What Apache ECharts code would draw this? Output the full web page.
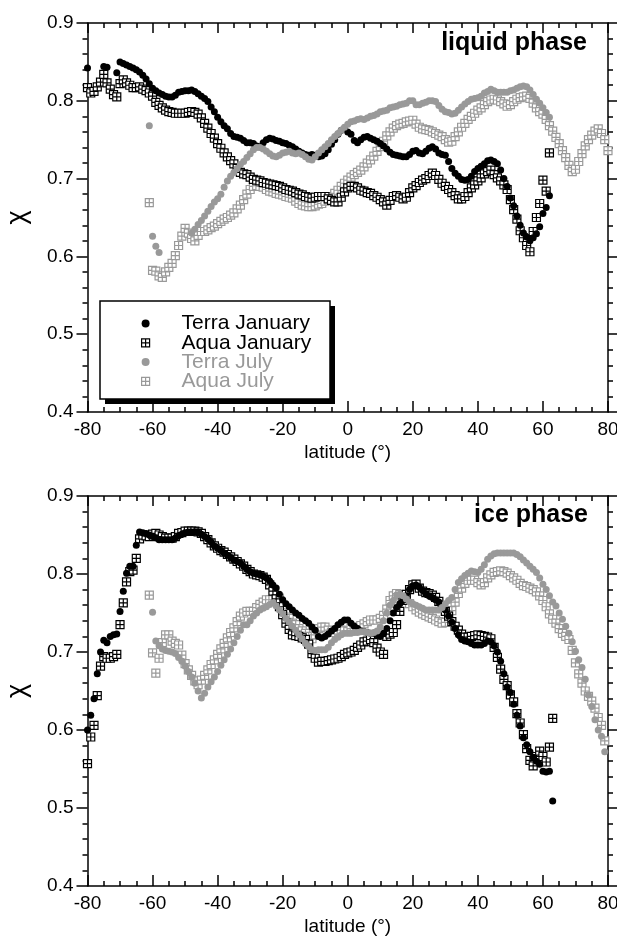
<!DOCTYPE html>
<html>
<head>
<meta charset="utf-8">
<title>chi vs latitude</title>
<script src="https://cdn.jsdelivr.net/npm/echarts@6.0.0/dist/echarts.min.js"></script>
<style>
html, body { margin: 0; padding: 0; background: #fff; }
#chart { width: 617px; height: 945px; }
</style>
</head>
<body>
<div id="chart"></div>
<script>
// chi values in 1 degree latitude bins, first value at the given start latitude
// (null = no point in that bin)

// liquid phase
const terraJanLiqStart = -80;
const terraJanLiq = [
    0.842, null, null, null, null, 0.844, 0.843, null, null, 0.836,   // -80
    0.850, 0.848, 0.846, 0.844, 0.842, 0.840, 0.837, 0.833, 0.828, 0.822,   // -70
    0.816, 0.813, 0.810, 0.808, 0.806, 0.805, 0.805, 0.807, 0.811, 0.812,   // -60
    0.813, 0.813, 0.814, 0.812, 0.809, 0.806, 0.803, 0.799, 0.792, 0.786,   // -50
    0.779, 0.773, 0.768, 0.764, 0.758, 0.754, 0.753, 0.752, 0.749, 0.746,   // -40
    0.746, 0.745, 0.742, 0.741, 0.746, 0.750, 0.752, 0.751, 0.749, 0.748,   // -30
    0.746, 0.745, 0.743, 0.741, 0.738, 0.735, 0.733, 0.731, 0.730, 0.731,   // -20
    0.730, 0.728, 0.729, 0.732, 0.737, 0.744, 0.750, 0.757, 0.762, 0.764,   // -10
    0.760, 0.757, 0.749, 0.746, 0.750, 0.753, 0.754, 0.752, 0.750, 0.748,   // 0
    0.745, 0.742, 0.738, 0.734, 0.731, 0.730, 0.729, 0.728, 0.728, 0.731,   // 10
    0.735, 0.736, 0.733, 0.732, 0.735, 0.739, 0.741, 0.738, 0.733, 0.731,   // 20
    0.730, 0.722, 0.713, 0.707, 0.703, 0.699, 0.698, 0.699, 0.703, 0.709,   // 30
    0.713, 0.716, 0.719, 0.723, 0.724, 0.722, 0.719, 0.711, 0.700, 0.690,   // 40
    0.675, 0.665, 0.652, 0.640, 0.630, 0.625, 0.620, 0.624, 0.629, 0.638,   // 50
    0.655, 0.663, 0.678                                                     // 60
];

const aquaJanLiqStart = -80;
const aquaJanLiq = [
    0.817, 0.810, 0.812, 0.818, 0.824, 0.834, 0.823, 0.815, 0.808, 0.805,
    0.822, 0.827, 0.823, 0.820, 0.817, 0.817, 0.818, 0.815, 0.813, 0.810,
    0.806, 0.798, 0.794, 0.791, 0.788, 0.786, 0.785, 0.784, 0.784, 0.784,
    0.784, 0.785, 0.786, 0.785, 0.783, 0.778, 0.771, 0.765, 0.758, 0.752,
    0.745, 0.739, 0.733, 0.728, 0.723, 0.719, 0.713, 0.708, 0.706, 0.705,
    0.702, 0.699, 0.698, 0.697, 0.695, 0.694, 0.693, 0.692, 0.691, 0.690,
    0.688, 0.686, 0.685, 0.684, 0.682, 0.680, 0.679, 0.677, 0.676, 0.675,
    0.676, 0.677, 0.677, 0.677, 0.674, 0.672, 0.670, 0.670, 0.676, 0.683,
    0.688, 0.690, 0.690, 0.688, 0.685, 0.684, 0.682, 0.681, 0.678, 0.676,
    0.673, 0.670, 0.666, 0.672, 0.677, 0.678, 0.676, 0.674, 0.676, 0.682,
    0.688, 0.691, 0.695, 0.698, 0.700, 0.704, 0.707, 0.704, 0.699, 0.694,
    0.690, 0.686, 0.682, 0.678, 0.674, 0.674, 0.677, 0.682, 0.688, 0.692,
    0.697, 0.701, 0.706, 0.709, 0.711, 0.705, 0.701, 0.697, 0.692, 0.686,
    0.673, 0.660, 0.648, 0.633, 0.624, 0.614, 0.606, 0.632, 0.650, 0.668,
    0.698, 0.684, 0.733
];

const terraJulLiqStart = -61;
const terraJulLiq = [
    0.768, 0.626, 0.613, 0.605, null, null, null, null, null, null,   // -61
    null, null, null, 0.630, 0.635, 0.641, 0.646, 0.652, 0.658, 0.664,   // -51
    0.670, 0.674, 0.680, 0.689, 0.697, 0.703, 0.708, 0.713, 0.718, 0.722,   // -41
    0.727, 0.732, 0.737, 0.740, 0.740, 0.738, 0.735, 0.732, 0.729, 0.728,   // -31
    0.730, 0.733, 0.734, 0.735, 0.733, 0.732, 0.733, 0.731, 0.728, 0.725,   // -21
    0.724, 0.728, 0.733, 0.737, 0.741, 0.745, 0.750, 0.754, 0.758, 0.762,   // -11
    0.766, 0.770, 0.773, 0.774, 0.776, 0.777, 0.776, 0.778, 0.780, 0.781,   // -1
    0.783, 0.786, 0.787, 0.788, 0.791, 0.792, 0.793, 0.795, 0.796, 0.797,   // 9
    0.800, 0.800, 0.795, 0.795, 0.797, 0.798, 0.800, 0.800, 0.799, 0.794,   // 19
    0.789, 0.786, 0.785, 0.783, 0.784, 0.788, 0.792, 0.796, 0.799, 0.802,   // 29
    0.803, 0.804, 0.806, 0.810, 0.812, 0.815, 0.813, 0.811, 0.811, 0.811,   // 39
    0.811, 0.813, 0.814, 0.816, 0.818, 0.819, 0.818, 0.814, 0.808, 0.802,   // 49
    0.797, 0.791, 0.785, 0.779                                              // 59
];

const aquaJulLiqStart = -61;
const aquaJulLiq = [
    0.669, 0.582, 0.581, 0.575, 0.573, 0.580, 0.586, 0.591, 0.601, 0.614,   // -61
    0.626, 0.636, 0.630, 0.623, 0.620, 0.627, 0.632, 0.632, 0.634, 0.637,   // -51
    0.639, 0.642, 0.645, 0.648, 0.650, 0.653, 0.656, 0.661, 0.666, 0.673,   // -41
    0.680, 0.686, 0.690, 0.691, 0.690, 0.689, 0.686, 0.684, 0.683, 0.681,   // -31
    0.680, 0.679, 0.677, 0.676, 0.675, 0.671, 0.668, 0.666, 0.665, 0.664,   // -21
    0.664, 0.665, 0.667, 0.668, 0.671, 0.674, 0.677, 0.681, 0.685, 0.690,   // -11
    0.694, 0.698, 0.702, 0.705, 0.708, 0.711, 0.715, 0.720, 0.724, 0.729,   // -1
    0.735, 0.741, 0.748, 0.755, 0.760, 0.765, 0.768, 0.770, 0.771, 0.773,   // 9
    0.774, 0.775, 0.770, 0.766, 0.764, 0.763, 0.762, 0.760, 0.758, 0.756,   // 19
    0.754, 0.750, 0.747, 0.748, 0.754, 0.760, 0.766, 0.771, 0.776, 0.780,   // 29
    0.784, 0.788, 0.791, 0.795, 0.799, 0.801, 0.802, 0.801, 0.799, 0.796,   // 39
    0.793, 0.795, 0.799, 0.802, 0.804, 0.805, 0.806, 0.803, 0.797, 0.791,   // 49
    0.786, 0.783, 0.776, 0.768, 0.761, 0.753, 0.745, 0.736, 0.727, 0.717,   // 59
    0.709, 0.712, 0.722, 0.732, 0.742, 0.750, 0.756, 0.761, 0.764, 0.758,   // 69
    0.750, 0.736                                                            // 79
];

// ice phase
const terraJanIceStart = -80;
const terraJanIce = [
    0.600, 0.619, 0.640, 0.672, 0.700, 0.715, 0.712, 0.720, 0.722, 0.723,
    0.752, 0.778, 0.801, 0.810, 0.810, 0.837, 0.854, 0.853, 0.852, 0.850,
    0.848, 0.846, 0.844, 0.844, 0.844, 0.844, 0.844, 0.846, 0.849, 0.851,
    0.853, 0.854, 0.854, 0.854, 0.853, 0.851, 0.848, 0.845, 0.841, 0.836,
    0.833, 0.830, 0.827, 0.824, 0.821, 0.818, 0.816, 0.814, 0.810, 0.806,
    0.803, 0.801, 0.800, 0.799, 0.797, 0.795, 0.791, 0.786, 0.782, 0.774,
    0.767, 0.762, 0.758, 0.754, 0.750, 0.747, 0.743, 0.740, 0.737, 0.732,
    0.728, 0.720, 0.718, 0.720, 0.723, 0.727, 0.730, 0.735, 0.738, 0.741,
    0.741, 0.737, 0.733, 0.730, 0.727, 0.726, 0.725, 0.724, 0.724, 0.722,
    0.720, 0.724, 0.730, 0.740, 0.750, 0.757, 0.762, 0.766, 0.772, 0.780,
    0.785, 0.786, 0.783, 0.779, 0.775, 0.772, 0.770, 0.767, 0.764, 0.760,
    0.754, 0.746, 0.738, 0.730, 0.722, 0.716, 0.714, 0.713, 0.711, 0.709,
    0.709, 0.709, 0.711, 0.714, 0.713, 0.708, 0.700, 0.688, 0.672, 0.655,
    0.648, 0.633, 0.619, 0.605, 0.590, 0.581, 0.572, 0.565, 0.560, 0.556,
    0.547, 0.546, 0.547, 0.509
];

const aquaJanIceStart = -80;
const aquaJanIce = [
    0.557, 0.591, 0.606, 0.644, 0.682, 0.694, 0.692, 0.692, 0.694, 0.697,
    0.735, 0.763, 0.790, 0.803, 0.805, 0.820, 0.845, 0.850, 0.849, 0.848,
    0.851, 0.852, 0.850, 0.848, 0.846, 0.846, 0.846, 0.848, 0.852, 0.853,
    0.855, 0.855, 0.855, 0.855, 0.854, 0.852, 0.848, 0.844, 0.840, 0.836,
    0.833, 0.830, 0.828, 0.825, 0.822, 0.819, 0.816, 0.813, 0.810, 0.806,
    0.803, 0.800, 0.799, 0.798, 0.796, 0.793, 0.786, 0.778, 0.768, 0.758,
    0.748, 0.737, 0.729, 0.722, 0.721, 0.720, 0.718, 0.716, 0.710, 0.698,
    0.692, 0.687, 0.688, 0.688, 0.689, 0.690, 0.691, 0.692, 0.694, 0.697,
    0.699, 0.700, 0.702, 0.706, 0.709, 0.713, 0.714, 0.716, 0.712, 0.705,
    0.700, 0.697, 0.720, 0.723, 0.725, 0.735, 0.752, 0.766, 0.774, 0.780,
    0.786, 0.787, 0.782, 0.778, 0.776, 0.775, 0.773, 0.770, 0.765, 0.758,
    0.752, 0.746, 0.739, 0.733, 0.728, 0.723, 0.719, 0.719, 0.720, 0.721,
    0.722, 0.721, 0.720, 0.719, 0.717, 0.706, 0.693, 0.678, 0.665, 0.657,
    0.645, 0.636, 0.621, 0.609, 0.594, 0.576, 0.561, 0.554, 0.566, 0.573,
    0.566, 0.559, 0.578, 0.615
];

const terraJulIceStart = -60;
const terraJulIce = [
    0.751, 0.714, 0.708, 0.704, 0.702, 0.701, 0.700, 0.698, 0.693, 0.688,
    0.682, 0.675, 0.668, 0.660, 0.650, 0.641, 0.647, 0.655, 0.662, 0.668,
    0.675, 0.683, 0.690, 0.697, 0.704, 0.712, 0.720, 0.728, 0.735, 0.735,
    0.740, 0.746, 0.750, 0.754, 0.756, 0.758, 0.761, 0.763, 0.759, 0.754,
    0.749, 0.743, 0.738, 0.733, 0.728, 0.722, 0.717, 0.711, 0.707, 0.703,
    0.702, 0.703, 0.703, 0.703, 0.706, 0.712, 0.716, 0.719, 0.722, 0.724,
    0.724, 0.724, 0.725, 0.725, 0.726, 0.726, 0.725, 0.724, 0.725, 0.727,
    0.732, 0.740, 0.750, 0.760, 0.766, 0.773, 0.774, 0.772, 0.768, 0.764,
    0.762, 0.760, 0.758, 0.756, 0.754, 0.754, 0.754, 0.754, 0.754, 0.757,
    0.762, 0.766, 0.770, 0.780, 0.789, 0.794, 0.798, 0.801, 0.804, 0.803,
    0.802, 0.806, 0.812, 0.819, 0.823, 0.826, 0.827, 0.827, 0.827, 0.827,
    0.827, 0.827, 0.825, 0.822, 0.818, 0.814, 0.810, 0.806, 0.802, 0.795,
    0.787, 0.780, 0.772, 0.764, 0.759, 0.750, 0.742, 0.733, 0.724, 0.713,
    0.701, 0.690, 0.680, 0.665, 0.645, 0.630, 0.613, 0.600, 0.592, 0.572
];

const aquaJulIceStart = -61;
const aquaJulIce = [
    0.773, 0.699, 0.673, 0.692, 0.712, 0.722, 0.722, 0.714, 0.711, 0.709,
    0.696, 0.685, 0.677, 0.670, 0.663, 0.658, 0.664, 0.670, 0.677, 0.684,
    0.690, 0.697, 0.704, 0.711, 0.718, 0.725, 0.731, 0.739, 0.746, 0.750,
    0.752, 0.752, 0.752, 0.757, 0.761, 0.764, 0.767, 0.767, 0.767, 0.768,
    0.769, 0.760, 0.750, 0.743, 0.737, 0.735, 0.730, 0.727, 0.724, 0.720,
    0.717, 0.722, 0.730, 0.732, 0.732, 0.728, 0.725, 0.725, 0.728, 0.728,
    0.727, 0.726, 0.730, 0.732, 0.732, 0.734, 0.736, 0.739, 0.741, 0.741,
    0.741, 0.743, 0.747, 0.755, 0.766, 0.772, 0.775, 0.774, 0.772, 0.767,
    0.762, 0.758, 0.754, 0.751, 0.749, 0.747, 0.745, 0.743, 0.741, 0.739,
    0.737, 0.738, 0.743, 0.753, 0.764, 0.775, 0.782, 0.788, 0.792, 0.792,
    0.792, 0.789, 0.786, 0.789, 0.795, 0.799, 0.802, 0.803, 0.804, 0.803,
    0.801, 0.798, 0.795, 0.792, 0.788, 0.785, 0.784, 0.782, 0.780, 0.777,
    0.772, 0.766, 0.758, 0.749, 0.742, 0.737, 0.730, 0.724, 0.720, 0.716,
    0.702, 0.686, 0.672, 0.660, 0.650, 0.643, 0.637, 0.628, 0.616, 0.606,
    0.586
];

const seriesNames = ["Terra January", "Aqua January", "Terra July", "Aqua July"];
const latTicks = { min: -80, max: 80, step: 20 };
const chiTicks = { min: 0.4, max: 0.9, step: 0.1 };

const FONT = "Liberation Sans";
const GREY = "#999999";
const SQUARE = "path://M0,0H8V8H0ZM4,0V8M0,4H8";

function pts(start, vals) {
    return vals.map((v, i) => [start + i, v]).filter((p) => p[1] !== null);
}

let dom = document.getElementById("chart");
let myChart = echarts.init(dom, null, { renderer: "canvas" });

const tickStyle = { color: "#000", width: 1.5 };
const labelStyle = { color: "#000", fontSize: 19, fontFamily: FONT };

function xAxes(gridIndex) {
    return [{
        gridIndex: gridIndex,
        type: "value",
        position: "bottom",
        min: latTicks.min,
        max: latTicks.max,
        interval: latTicks.step,
        axisLine: { onZero: false, lineStyle: tickStyle },
        axisTick: { inside: true, length: 11, lineStyle: tickStyle },
        minorTick: { show: true, splitNumber: 4, length: 5, lineStyle: tickStyle },
        splitLine: { show: false },
        axisLabel: Object.assign({ margin: 8 }, labelStyle),
        name: "latitude (°)",
        nameLocation: "middle",
        nameGap: 31,
        nameTextStyle: labelStyle,
    }, {
        gridIndex: gridIndex,
        type: "value",
        position: "top",
        min: latTicks.min,
        max: latTicks.max,
        interval: latTicks.step,
        axisLine: { onZero: false, lineStyle: tickStyle },
        axisTick: { inside: true, length: 10, lineStyle: tickStyle },
        minorTick: { show: true, splitNumber: 4, length: 5, lineStyle: tickStyle },
        splitLine: { show: false },
        axisLabel: { show: false },
    }, ];
}

function yAxes(gridIndex) {
    return [{
        gridIndex: gridIndex,
        type: "value",
        position: "left",
        min: chiTicks.min,
        max: chiTicks.max,
        interval: chiTicks.step,
        axisLine: { onZero: false, lineStyle: tickStyle },
        axisTick: { length: 11, lineStyle: tickStyle },
        minorTick: { show: true, splitNumber: 5, length: 5, lineStyle: tickStyle },
        splitLine: { show: false },
        axisLabel: Object.assign({
            margin: 14,
            formatter: (v) => v.toFixed(1),
        }, labelStyle),
        name: "χ",
        nameLocation: "middle",
        nameRotate: 90,
        nameGap: 56,
        nameTextStyle: { color: "#000", fontSize: 27, fontFamily: FONT },
    }, {
        gridIndex: gridIndex,
        type: "value",
        position: "right",
        min: chiTicks.min,
        max: chiTicks.max,
        interval: chiTicks.step,
        axisLine: { onZero: false, lineStyle: tickStyle },
        axisTick: { length: 9, lineStyle: tickStyle },
        minorTick: { show: true, splitNumber: 5, length: 5, lineStyle: tickStyle },
        splitLine: { show: false },
        axisLabel: { show: false },
    }, ];
}

function panelSeries(axisIndex, terraJan, aquaJan, terraJul, aquaJul) {
    const common = {
        type: "scatter",
        xAxisIndex: axisIndex,
        yAxisIndex: axisIndex,
        clip: false,
        silent: true,
    };
    return [
        Object.assign({
            name: "Aqua July",
            data: aquaJul,
            symbol: SQUARE,
            symbolSize: 8,
            itemStyle: { color: "#fff", borderColor: GREY, borderWidth: 1.2, opacity: 1 },
        }, common),
        Object.assign({
            name: "Aqua January",
            data: aquaJan,
            symbol: SQUARE,
            symbolSize: 8,
            itemStyle: { color: "#fff", borderColor: "#000", borderWidth: 1.2, opacity: 1 },
        }, common),
        Object.assign({
            name: "Terra January",
            data: terraJan,
            symbol: "circle",
            symbolSize: 7,
            itemStyle: { color: "#000", opacity: 1 },
        }, common),
        Object.assign({
            name: "Terra July",
            data: terraJul,
            symbol: "circle",
            symbolSize: 7,
            itemStyle: { color: GREY, opacity: 1 },
        }, common),
    ];
}

let option = {
    animation: false,
    backgroundColor: "#fff",
    grid: [
        { left: 87.5, right: 9, top: 23, height: 389, outerBoundsMode: "none", containLabel: false },
        { left: 87.5, right: 9, top: 496, height: 390, outerBoundsMode: "none", containLabel: false },
    ],
    xAxis: xAxes(0).concat(xAxes(1)),
    yAxis: yAxes(0).concat(yAxes(1)),
    title: [{
        text: "liquid phase",
        right: 30,
        top: 31,
        padding: 0,
        textStyle: { color: "#000", fontSize: 25, fontWeight: "bold", fontFamily: FONT },
    }, {
        text: "ice phase",
        right: 29,
        top: 503,
        padding: 0,
        textStyle: { color: "#000", fontSize: 25, fontWeight: "bold", fontFamily: FONT },
    }, ],
    graphic: [{
        type: "rect",
        z: 10,
        shape: { x: 105, y: 306, width: 230, height: 98 },
        style: { fill: "#000" },
    }, {
        type: "rect",
        z: 11,
        shape: { x: 100, y: 301, width: 230, height: 98 },
        style: { fill: "#fff", stroke: "#000", lineWidth: 1.5 },
    }, ],
    legend: {
        z: 20,
        orient: "vertical",
        left: 141,
        top: 313,
        padding: 0,
        itemWidth: 8,
        itemHeight: 8,
        itemGap: -1.7,
        selectedMode: false,
        textStyle: { fontSize: 21, fontFamily: FONT, lineHeight: 19.4, padding: [0, 0, 0, 27] },
        data: [
            { name: seriesNames[0], textStyle: { color: "#000" }, itemStyle: { color: "#000", borderWidth: 0, opacity: 1 } },
            { name: seriesNames[1], textStyle: { color: "#000" }, itemStyle: { color: "#fff", borderColor: "#000", borderWidth: 1.2, opacity: 1 } },
            { name: seriesNames[2], textStyle: { color: GREY }, itemStyle: { color: GREY, borderWidth: 0, opacity: 1 } },
            { name: seriesNames[3], textStyle: { color: GREY }, itemStyle: { color: "#fff", borderColor: GREY, borderWidth: 1.2, opacity: 1 } },
        ],
    },
    series: panelSeries(0,
        pts(terraJanLiqStart, terraJanLiq),
        pts(aquaJanLiqStart, aquaJanLiq),
        pts(terraJulLiqStart, terraJulLiq),
        pts(aquaJulLiqStart, aquaJulLiq)
    ).concat(panelSeries(2,
        pts(terraJanIceStart, terraJanIce),
        pts(aquaJanIceStart, aquaJanIce),
        pts(terraJulIceStart, terraJulIce),
        pts(aquaJulIceStart, aquaJulIce)
    )),
};

if (option && typeof option === "object") {
    myChart.setOption(option);
}

window.addEventListener("resize", myChart.resize);
</script>
</body>
</html>
